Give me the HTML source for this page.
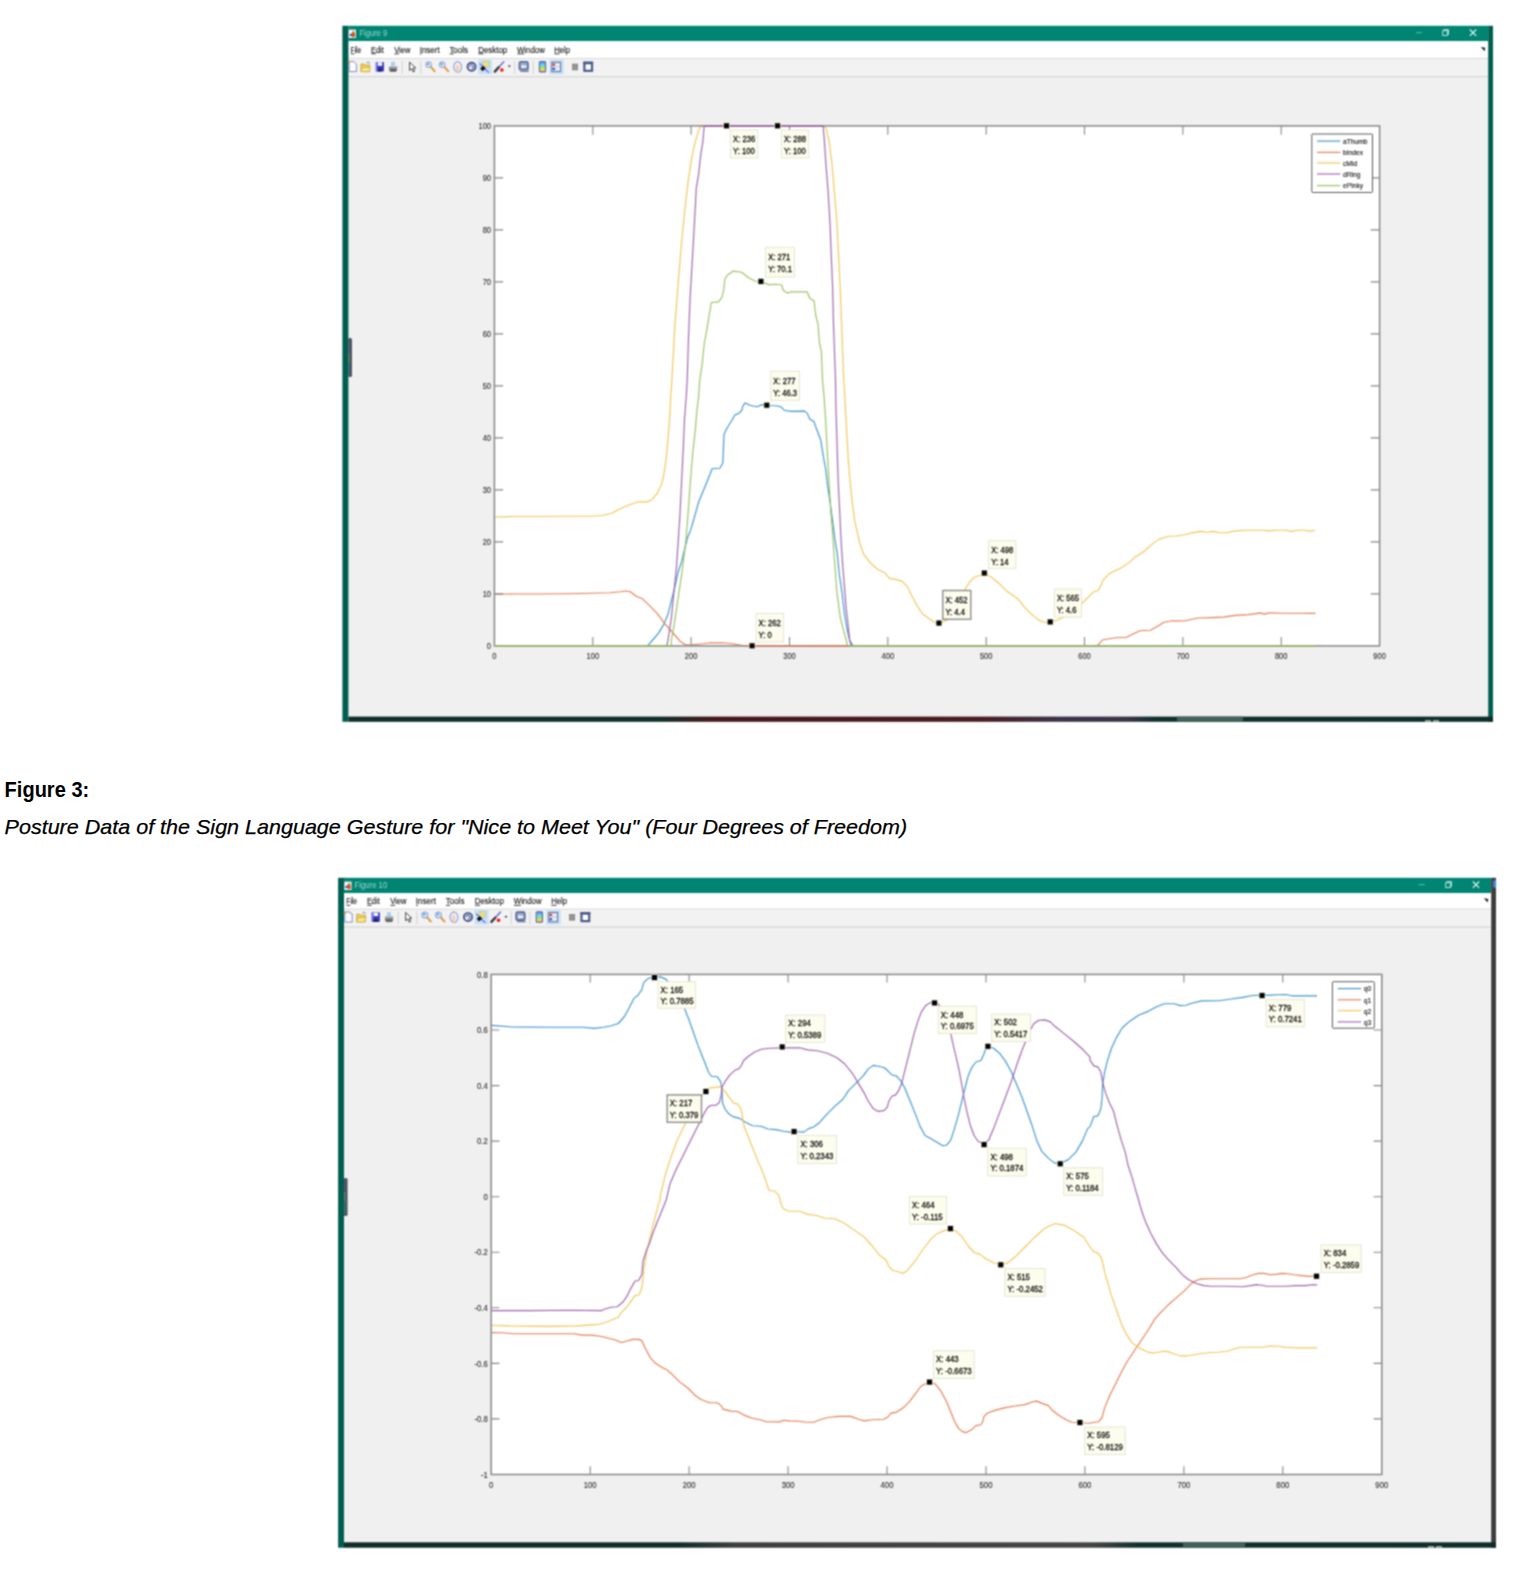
<!DOCTYPE html>
<html lang="en"><head><meta charset="utf-8"><title>Figure 3</title>
<style>html,body{margin:0;padding:0;background:#fff}body{width:1532px;height:1580px;overflow:hidden;position:relative}svg{display:block;position:absolute;left:0;top:0}text{white-space:pre}</style></head><body>
<svg width="1532" height="1580" viewBox="0 0 1532 1580">
<defs><filter id="soft" x="-1%" y="-1%" width="102%" height="102%" color-interpolation-filters="sRGB"><feConvolveMatrix order="3" kernelMatrix="1 2 1 2 4 2 1 2 1" divisor="16" edgeMode="none" preserveAlpha="false"/></filter><linearGradient id="cbar" x1="0" y1="0" x2="0" y2="1"><stop offset="0" stop-color="#5a7af0"/><stop offset="0.35" stop-color="#6ad8e8"/><stop offset="0.6" stop-color="#9ae07a"/><stop offset="0.8" stop-color="#f0e060"/><stop offset="1" stop-color="#f0904a"/></linearGradient><linearGradient id="tb1" x1="0" y1="0" x2="1" y2="0"><stop offset="0" stop-color="#0e2e2a"/><stop offset="0.27" stop-color="#0e2e2a"/><stop offset="0.32" stop-color="#471619"/><stop offset="0.55" stop-color="#4a1a20"/><stop offset="0.62" stop-color="#3c3248"/><stop offset="0.68" stop-color="#3a3446"/><stop offset="0.705" stop-color="#10302c"/><stop offset="1" stop-color="#0e2c28"/></linearGradient><linearGradient id="tb2" x1="0" y1="0" x2="1" y2="0"><stop offset="0" stop-color="#0f2c29"/><stop offset="0.29" stop-color="#0f2c29"/><stop offset="0.34" stop-color="#3e3e3e"/><stop offset="0.65" stop-color="#444"/><stop offset="0.69" stop-color="#10302c"/><stop offset="1" stop-color="#0e2c28"/></linearGradient></defs>
<rect x="0" y="0" width="1532" height="1580" fill="#fff"/>
<g filter="url(#soft)">
<rect x="342.4" y="25.8" width="1150.6" height="696.0" fill="#f0f0f0"/><rect x="348.4" y="25.8" width="1139.8000000000002" height="15.2" fill="#008573"/><rect x="348.4" y="41.0" width="1139.8000000000002" height="17.200000000000003" fill="#ffffff"/><rect x="348.4" y="57.900000000000006" width="1139.8000000000002" height="1.2" fill="#dddddd"/><rect x="348.4" y="59.1" width="1139.8000000000002" height="17.199999999999996" fill="#f2f2f2"/><rect x="348.4" y="76.1" width="1139.8000000000002" height="1.2" fill="#d6d6d6"/><rect x="342.4" y="25.8" width="6.0" height="696.0" fill="#005e50"/><rect x="1488.2" y="25.8" width="4.7999999999999545" height="696.0" fill="#005e50"/><rect x="348.4" y="716.6" width="1144.6" height="5.2" fill="url(#tb1)"/><rect x="1177" y="716.6" width="66" height="5.2" fill="#44605b"/><rect x="1425" y="720" width="6" height="1.8" fill="#9ab0ac"/><rect x="1433" y="720" width="6" height="1.8" fill="#9ab0ac"/><rect x="348.7" y="29.599999999999998" width="7.2" height="8.4" fill="#f6f4f2"/><path d="M349.5 35.0l2.2-1.6 1.8-3 1.2 2.4 0.6 3.4-2.2 1.6-1.4-2z" fill="#d8501c"/><path d="M349.3 35.0l2.2-1.6 0.8 1.8-1.2 1.4z" fill="#3a5aa8"/><text x="359.4" y="36.3" font-family="Liberation Sans, sans-serif" font-size="9.4" fill="#9fd8cd" textLength="27.8" lengthAdjust="spacingAndGlyphs">Figure 9</text><path d="M1416 32.699999999999996h6" stroke="#5fc0b0" stroke-width="1"/><rect x="1442.7" y="30.699999999999996" width="4.6" height="4.8" fill="none" stroke="#c8ece6" stroke-width="0.9"/><path d="M1443.9 30.699999999999996v-1.1h4.6v4.8h-1.2" fill="none" stroke="#c8ece6" stroke-width="0.9"/><path d="M1469.8 29.499999999999996l6.4 6.4M1476.2 29.499999999999996l-6.4 6.4" stroke="#e6f6f3" stroke-width="1.1"/><path d="M1480.8 47.00000000000001l4.6 0.8 -0.8 3.4z" fill="#222"/><g transform="translate(348.4,0) scale(1.0,1) translate(-348.4,0)" font-family="Liberation Sans, sans-serif" font-size="9.7" fill="#1a1a1a" stroke="#1a1a1a" stroke-width="0.15"><text x="350.6" y="52.5" textLength="10.7" lengthAdjust="spacingAndGlyphs">File</text><rect x="350.8" y="53.5" width="3.7" height="0.8" stroke="none"/><text x="371.1" y="52.5" textLength="12.7" lengthAdjust="spacingAndGlyphs">Edit</text><rect x="371.3" y="53.5" width="4.5" height="0.8" stroke="none"/><text x="394.2" y="52.5" textLength="16.1" lengthAdjust="spacingAndGlyphs">View</text><rect x="394.4" y="53.5" width="4.6" height="0.8" stroke="none"/><text x="419.7" y="52.5" textLength="20.0" lengthAdjust="spacingAndGlyphs">Insert</text><rect x="419.9" y="53.5" width="1.8" height="0.8" stroke="none"/><text x="449.4" y="52.5" textLength="18.6" lengthAdjust="spacingAndGlyphs">Tools</text><rect x="449.6" y="53.5" width="4.2" height="0.8" stroke="none"/><text x="478.2" y="52.5" textLength="29.0" lengthAdjust="spacingAndGlyphs">Desktop</text><rect x="478.4" y="53.5" width="5.3" height="0.8" stroke="none"/><text x="517.0" y="52.5" textLength="27.8" lengthAdjust="spacingAndGlyphs">Window</text><rect x="517.2" y="53.5" width="7.0" height="0.8" stroke="none"/><text x="554.2" y="52.5" textLength="15.7" lengthAdjust="spacingAndGlyphs">Help</text><rect x="554.4" y="53.5" width="5.1" height="0.8" stroke="none"/></g><g transform="translate(348.4,0.0) scale(1.0,1) translate(-348.4,0)"><path d="M349.2 61.6h4.6l2.6 2.6v7.4h-7.2z" fill="#fdfdff" stroke="#7f8fc4" stroke-width="1"/><circle cx="349" cy="62.6" r="1.1" fill="#f08a3a"/><path d="M361 64h3l1 1h4.6v6.6H361z" fill="#ecd05a" stroke="#c8a432" stroke-width="0.9"/><path d="M362 67.4h8.2l-1 4.2H361z" fill="#f7e88a" stroke="#c8a432" stroke-width="0.6"/><path d="M366.5 62.6l2.4-0.6 0.6 1.6" stroke="#6a8ac8" stroke-width="0.9" fill="none"/><rect x="375.8" y="61.9" width="8.2" height="9.7" rx="0.8" fill="#3c3cc0"/><rect x="377.6" y="62.2" width="4.6" height="3.6" fill="#f4f4ff"/><rect x="378" y="68.3" width="3.8" height="3.3" fill="#22226a"/><rect x="375.8" y="61.9" width="1.4" height="9.7" fill="#7a7af0"/><rect x="391" y="61.8" width="4" height="4.6" fill="#a8d0f4"/><path d="M389 66h8.2v4.4l-1.4 1.6h-5.4l-1.4-1.6z" fill="#8a8a8a"/><rect x="390.4" y="69.2" width="5.4" height="2" fill="#5a5a5a"/><rect x="389" y="66" width="8.2" height="1.3" fill="#c4c4c4"/><rect x="401.7" y="61" width="1" height="13" fill="#d2d2d2"/><rect x="420.3" y="61" width="1" height="13" fill="#d2d2d2"/><rect x="514.1" y="61" width="1" height="13" fill="#d2d2d2"/><rect x="532.7" y="61" width="1" height="13" fill="#d2d2d2"/><path d="M409.6 62.2v8.2l2-1.8 1.5 3.3 1.5-0.7-1.5-3.2h2.6z" fill="#fff" stroke="#333" stroke-width="0.9" stroke-linejoin="round"/><line x1="430.8" y1="66.8" x2="434.6" y2="71.2" stroke="#e09a48" stroke-width="2" stroke-linecap="round"/><circle cx="428.6" cy="64.6" r="3" fill="#cfe2f7" stroke="#8ea4cc" stroke-width="1"/><circle cx="428.0" cy="64" r="1.1" fill="#5a8ad0"/><line x1="444.4" y1="66.8" x2="448.2" y2="71.2" stroke="#e09a48" stroke-width="2" stroke-linecap="round"/><circle cx="442.2" cy="64.6" r="3" fill="#cfe2f7" stroke="#8ea4cc" stroke-width="1"/><circle cx="441.59999999999997" cy="64" r="1.1" fill="#5a8ad0"/><path d="M453.4 66.4l1.4-3.2 2.6-1.8 2.6 1.4 1.6 3 -0.2 3.2-1.8 3h-3.2l-2.2-2.6z" fill="#eef0fa" stroke="#93a2d4" stroke-width="1.1" stroke-linejoin="round"/><path d="M455.6 66l1.8-1.6 1.8 1.4 0.2 3-1 2.6h-2l-1-2.6z" fill="#f6d2b4"/><circle cx="471.6" cy="66.8" r="4.1" fill="#e4e8f4" stroke="#3c4a80" stroke-width="1.7"/><path d="M469.6 66.6a2 2 0 1 1 2 2.2" fill="none" stroke="#4a5a94" stroke-width="1.1"/><rect x="478.1" y="59.5" width="14" height="14.8" fill="#c7e1f8"/><rect x="482.8" y="61.4" width="6.2" height="5.6" fill="#e6de8c" stroke="#bdb86a" stroke-width="0.5"/><line x1="479.6" y1="63.4" x2="488.8" y2="72.6" stroke="#5c5cf4" stroke-width="1.1"/><rect x="480.8" y="66.6" width="4.2" height="3.6" fill="#111" transform="rotate(-40 482.9 68.4)"/><line x1="498.6" y1="67.4" x2="503.8" y2="61.8" stroke="#7676dc" stroke-width="1.6" stroke-linecap="round"/><line x1="494.8" y1="71.6" x2="498.6" y2="67.4" stroke="#3a3a3a" stroke-width="2.4" stroke-linecap="round"/><circle cx="501.9" cy="70" r="1.8" fill="#f01010"/><path d="M507.8 65.6h3l-1.5 2z" fill="#333"/><rect x="519.4" y="61.8" width="8.6" height="8" rx="1.4" fill="#9aa9cf" stroke="#586896" stroke-width="1.6"/><path d="M521 66.4l2.6-2v1.3h3v1.6h-3v1.3z" fill="#fff"/><path d="M520.4 71.4h8.4" stroke="#6a7aa6" stroke-width="1.2"/><rect x="539.4" y="61.5" width="6.2" height="10.4" rx="1" fill="url(#cbar)" stroke="#5a6a9c" stroke-width="1.1"/><rect x="549.4" y="59.5" width="14.4" height="14.8" fill="#c7e1f8"/><rect x="551.8" y="62.2" width="8.8" height="9.4" fill="#d2dae8" stroke="#6c7a9c" stroke-width="1.1"/><rect x="552.7" y="63.5" width="2.2" height="2.2" fill="#f02020"/><rect x="552.7" y="67.8" width="2.2" height="2.2" fill="#2a4af0"/><path d="M556 64.6h3.6M556 68.9h3.6" stroke="#fff" stroke-width="1.2"/><rect x="572" y="63.7" width="6" height="6.6" fill="#8c8c8c"/><path d="M574 63.7v6.6M576 63.7v6.6M572 67h6" stroke="#a4a4a4" stroke-width="0.5"/><rect x="584.4" y="62.8" width="7.6" height="8" fill="#fff" stroke="#4a5a8c" stroke-width="2.2"/><rect x="583.3" y="61.7" width="9.8" height="2.6" fill="#4a5a8c"/></g>
<rect x="348.2" y="338" width="3.8" height="39" rx="1.6" fill="#4e5468"/><rect x="348.4" y="353" width="1.2" height="9" fill="#5a8a4a"/><rect x="348.4" y="362" width="1.2" height="12" fill="#2a7a72"/>
<rect x="494.4" y="125.9" width="885.1999999999999" height="520.0" fill="#fff"/>
<polyline points="647.5,645.9 652.7,640.0 658.7,632.9 663.8,624.4 668.0,614.2 671.4,600.6 674.8,587.1 678.2,571.8 681.6,561.6 684.1,551.4 687.5,537.8 690.9,529.4 694.3,517.5 698.6,502.2 702.8,492.0 707.0,481.8 710.4,473.3 712.1,468.8 719.8,468.3 722.8,463.2 724.0,434.3 727.4,427.5 731.6,420.7 735.0,414.8 738.4,413.6 741.8,410.5 742.7,406.3 745.2,402.9 750.3,405.5 757.1,406.8 762.2,404.6 765.9,405.5 775.8,405.8 780.9,406.8 784.3,410.2 791.1,411.4 804.6,411.1 807.2,413.1 809.7,419.0 814.0,421.6 815.7,426.7 820.8,440.3 823.3,456.4 825.8,470.0 827.5,485.2 830.1,502.2 832.6,520.9 835.2,541.2 837.2,553.1 839.4,575.2 842.0,592.2 844.5,614.2 847.1,629.5 849.6,640.0 853.0,645.9" fill="none" stroke="#4095ce" stroke-width="1.15" stroke-linejoin="round" stroke-linecap="round"/>
<polyline points="494.5,594.2 515.0,594.0 540.0,594.0 565.0,593.8 590.0,593.2 610.0,592.8 620.0,591.8 626.2,591.0 630.0,591.5 636.2,596.2 642.5,598.8 650.0,606.2 657.5,613.8 665.0,623.8 672.5,632.5 680.0,641.2 685.0,644.5 690.0,645.0 702.5,643.8 710.0,642.8 722.5,642.8 732.5,643.8 742.5,645.5 750.0,646.0 760.0,645.9 1093.0,645.9 1098.1,645.1 1102.3,640.0 1109.1,638.8 1117.6,637.5 1126.1,637.5 1132.9,634.1 1140.0,630.7 1150.4,630.3 1157.2,626.4 1163.9,622.2 1172.4,620.8 1184.3,621.0 1197.9,618.0 1211.5,617.6 1223.3,617.1 1235.2,615.4 1248.8,614.6 1260.7,612.9 1264.1,614.1 1269.2,612.9 1282.7,613.2 1299.7,613.2 1315.0,613.4" fill="none" stroke="#e37e53" stroke-width="1.15" stroke-linejoin="round" stroke-linecap="round"/>
<polyline points="494.5,517.0 515.0,516.5 540.0,516.5 565.0,516.2 590.0,516.2 602.5,515.5 612.5,513.0 620.0,508.8 630.0,504.5 637.5,502.0 640.0,501.9 646.8,501.9 651.9,499.7 657.0,493.7 661.2,485.2 663.8,475.0 666.3,458.1 668.0,439.4 669.7,417.3 670.9,393.6 671.9,380.0 674.8,327.1 678.2,282.9 681.6,242.2 685.0,208.3 688.4,179.4 691.8,157.3 695.2,142.1 698.6,130.2 701.1,125.8 824.1,125.8 826.7,130.2 829.2,142.1 831.8,162.4 834.3,191.3 836.9,221.8 838.6,255.8 840.3,289.7 841.6,323.7 842.8,357.6 843.7,380.0 844.5,390.2 845.7,413.9 847.1,439.4 848.4,461.5 850.1,481.8 852.2,502.2 854.7,520.9 858.1,536.1 860.6,546.3 864.0,554.8 870.8,563.3 877.6,569.2 880.0,570.4 885.1,573.0 889.3,578.4 895.3,579.4 902.1,581.1 907.2,586.6 912.2,596.7 917.3,606.1 922.4,613.7 929.2,618.8 934.3,622.2 939.1,623.4 947.9,619.7 954.7,612.0 961.5,600.1 965.7,588.3 970.0,581.5 975.0,576.7 980.1,575.5 984.5,573.8 990.3,576.4 998.8,583.2 1007.3,591.6 1017.5,598.4 1024.3,606.9 1032.7,615.4 1039.5,620.5 1045.5,622.5 1050.2,622.2 1058.2,619.7 1066.7,615.4 1082.0,603.5 1088.8,596.7 1093.8,591.6 1098.1,590.8 1101.5,584.0 1103.2,579.8 1109.1,573.8 1117.6,569.6 1122.7,567.0 1130.0,561.9 1135.1,556.9 1143.6,551.8 1152.1,544.1 1158.9,539.4 1167.3,536.5 1175.8,536.0 1186.0,534.5 1192.8,532.6 1201.3,531.4 1206.4,532.2 1213.2,531.4 1218.3,532.6 1226.7,532.8 1235.2,530.9 1245.4,530.2 1262.4,530.2 1269.2,530.9 1276.0,530.2 1286.1,530.2 1291.2,531.4 1298.0,530.2 1304.8,530.2 1309.9,531.1 1315.0,530.5" fill="none" stroke="#f2c558" stroke-width="1.15" stroke-linejoin="round" stroke-linecap="round"/>
<polyline points="666.8,645.9 668.0,640.0 671.4,617.6 673.9,592.2 676.5,566.7 678.2,541.2 679.9,515.8 681.6,481.8 683.3,447.9 684.5,419.0 686.2,397.0 687.2,380.0 688.4,340.6 690.1,298.2 692.6,255.8 694.3,225.2 696.3,187.9 698.6,174.3 700.8,153.9 702.8,142.1 704.2,125.8 823.0,125.8 824.1,137.0 825.8,162.4 828.1,191.3 830.1,225.2 831.4,259.2 832.6,286.3 833.5,323.7 834.7,357.6 835.5,380.0 836.0,410.5 836.9,439.4 838.2,481.8 839.9,515.8 841.1,541.2 842.8,566.7 844.5,587.1 846.2,609.1 847.9,622.7 849.6,640.0 851.3,645.9" fill="none" stroke="#9e63aa" stroke-width="1.15" stroke-linejoin="round" stroke-linecap="round"/>
<polyline points="494.4,645.9 671.2,645.9 671.4,640.0 673.9,626.1 676.5,609.1 679.0,592.2 681.6,575.2 683.8,558.2 685.8,541.2 687.9,515.8 690.1,485.2 692.6,454.7 695.2,430.9 696.9,410.5 698.6,397.0 699.7,380.0 701.9,366.1 704.2,344.0 707.0,328.8 709.2,315.2 711.3,302.5 718.4,301.9 721.5,298.2 723.5,291.4 724.9,278.7 728.3,274.4 733.3,271.1 741.8,272.2 748.6,277.8 755.4,281.2 760.5,281.6 769.0,284.6 775.8,284.3 781.7,285.0 783.4,290.6 787.7,293.1 791.1,291.8 807.2,291.8 809.7,298.2 814.0,300.8 815.7,315.2 817.9,323.7 819.6,344.0 821.3,350.8 822.5,380.0 824.1,397.0 825.8,422.4 827.5,456.4 829.2,485.2 830.9,512.4 832.6,532.7 834.3,558.2 836.9,592.2 840.3,617.6 843.7,631.2 846.2,640.0 847.6,645.9 1315.0,645.9" fill="none" stroke="#99c164" stroke-width="1.15" stroke-linejoin="round" stroke-linecap="round"/>
<path d="M592.8 645.9v-8.8M592.8 125.9v8.8M691.1 645.9v-8.8M691.1 125.9v8.8M789.5 645.9v-8.8M789.5 125.9v8.8M887.8 645.9v-8.8M887.8 125.9v8.8M986.2 645.9v-8.8M986.2 125.9v8.8M1084.5 645.9v-8.8M1084.5 125.9v8.8M1182.9 645.9v-8.8M1182.9 125.9v8.8M1281.2 645.9v-8.8M1281.2 125.9v8.8M494.4 593.9h8.8M1379.6 593.9h-8.8M494.4 541.9h8.8M1379.6 541.9h-8.8M494.4 489.9h8.8M1379.6 489.9h-8.8M494.4 437.9h8.8M1379.6 437.9h-8.8M494.4 385.9h8.8M1379.6 385.9h-8.8M494.4 333.9h8.8M1379.6 333.9h-8.8M494.4 281.9h8.8M1379.6 281.9h-8.8M494.4 229.9h8.8M1379.6 229.9h-8.8M494.4 177.9h8.8M1379.6 177.9h-8.8" stroke="#888888" stroke-width="1.1" fill="none"/><rect x="494.4" y="125.9" width="885.1999999999999" height="520.0" fill="none" stroke="#888888" stroke-width="1.5"/><text transform="translate(494.4,659.3) scale(0.88,1)" font-family="Liberation Sans, sans-serif" font-size="8.5" fill="#303030" text-anchor="middle" stroke="#303030" stroke-width="0.12">0</text><text transform="translate(592.8,659.3) scale(0.88,1)" font-family="Liberation Sans, sans-serif" font-size="8.5" fill="#303030" text-anchor="middle" stroke="#303030" stroke-width="0.12">100</text><text transform="translate(691.1,659.3) scale(0.88,1)" font-family="Liberation Sans, sans-serif" font-size="8.5" fill="#303030" text-anchor="middle" stroke="#303030" stroke-width="0.12">200</text><text transform="translate(789.5,659.3) scale(0.88,1)" font-family="Liberation Sans, sans-serif" font-size="8.5" fill="#303030" text-anchor="middle" stroke="#303030" stroke-width="0.12">300</text><text transform="translate(887.8,659.3) scale(0.88,1)" font-family="Liberation Sans, sans-serif" font-size="8.5" fill="#303030" text-anchor="middle" stroke="#303030" stroke-width="0.12">400</text><text transform="translate(986.2,659.3) scale(0.88,1)" font-family="Liberation Sans, sans-serif" font-size="8.5" fill="#303030" text-anchor="middle" stroke="#303030" stroke-width="0.12">500</text><text transform="translate(1084.5,659.3) scale(0.88,1)" font-family="Liberation Sans, sans-serif" font-size="8.5" fill="#303030" text-anchor="middle" stroke="#303030" stroke-width="0.12">600</text><text transform="translate(1182.9,659.3) scale(0.88,1)" font-family="Liberation Sans, sans-serif" font-size="8.5" fill="#303030" text-anchor="middle" stroke="#303030" stroke-width="0.12">700</text><text transform="translate(1281.2,659.3) scale(0.88,1)" font-family="Liberation Sans, sans-serif" font-size="8.5" fill="#303030" text-anchor="middle" stroke="#303030" stroke-width="0.12">800</text><text transform="translate(1379.6,659.3) scale(0.88,1)" font-family="Liberation Sans, sans-serif" font-size="8.5" fill="#303030" text-anchor="middle" stroke="#303030" stroke-width="0.12">900</text><text transform="translate(491.0,649.0) scale(0.88,1)" font-family="Liberation Sans, sans-serif" font-size="8.5" fill="#303030" text-anchor="end" stroke="#303030" stroke-width="0.12">0</text><text transform="translate(491.0,597.0) scale(0.88,1)" font-family="Liberation Sans, sans-serif" font-size="8.5" fill="#303030" text-anchor="end" stroke="#303030" stroke-width="0.12">10</text><text transform="translate(491.0,545.0) scale(0.88,1)" font-family="Liberation Sans, sans-serif" font-size="8.5" fill="#303030" text-anchor="end" stroke="#303030" stroke-width="0.12">20</text><text transform="translate(491.0,493.0) scale(0.88,1)" font-family="Liberation Sans, sans-serif" font-size="8.5" fill="#303030" text-anchor="end" stroke="#303030" stroke-width="0.12">30</text><text transform="translate(491.0,441.0) scale(0.88,1)" font-family="Liberation Sans, sans-serif" font-size="8.5" fill="#303030" text-anchor="end" stroke="#303030" stroke-width="0.12">40</text><text transform="translate(491.0,389.0) scale(0.88,1)" font-family="Liberation Sans, sans-serif" font-size="8.5" fill="#303030" text-anchor="end" stroke="#303030" stroke-width="0.12">50</text><text transform="translate(491.0,337.0) scale(0.88,1)" font-family="Liberation Sans, sans-serif" font-size="8.5" fill="#303030" text-anchor="end" stroke="#303030" stroke-width="0.12">60</text><text transform="translate(491.0,285.0) scale(0.88,1)" font-family="Liberation Sans, sans-serif" font-size="8.5" fill="#303030" text-anchor="end" stroke="#303030" stroke-width="0.12">70</text><text transform="translate(491.0,233.0) scale(0.88,1)" font-family="Liberation Sans, sans-serif" font-size="8.5" fill="#303030" text-anchor="end" stroke="#303030" stroke-width="0.12">80</text><text transform="translate(491.0,181.0) scale(0.88,1)" font-family="Liberation Sans, sans-serif" font-size="8.5" fill="#303030" text-anchor="end" stroke="#303030" stroke-width="0.12">90</text><text transform="translate(491.0,129.0) scale(0.88,1)" font-family="Liberation Sans, sans-serif" font-size="8.5" fill="#303030" text-anchor="end" stroke="#303030" stroke-width="0.12">100</text>
<polyline points="704.2,125.8 823.0,125.8" fill="none" stroke="#9e63aa" stroke-width="1.3" stroke-linejoin="round" stroke-linecap="round"/>
<polyline points="494.4,645.9 671.2,645.9" fill="none" stroke="#99c164" stroke-width="1.3" stroke-linejoin="round" stroke-linecap="round"/>
<polyline points="847.6,645.9 1315.0,645.9" fill="none" stroke="#99c164" stroke-width="1.3" stroke-linejoin="round" stroke-linecap="round"/>
<polyline points="744.0,645.6 847.6,645.9" fill="none" stroke="#e37e53" stroke-width="1.3" stroke-linejoin="round" stroke-linecap="round"/>
<rect x="1311.8" y="134" width="60.7" height="58.5" rx="0.8" fill="#fff" stroke="#5a5a5a" stroke-width="1"/><line x1="1317" y1="141.1" x2="1340.4" y2="141.1" stroke="#4095ce" stroke-width="1.15"/><text transform="translate(1343.0,143.9) scale(0.86,1)" font-family="Liberation Sans, sans-serif" font-size="7.8" fill="#1c1c1c" text-anchor="start" stroke="#1c1c1c" stroke-width="0.15">aThumb</text><line x1="1317" y1="152.4" x2="1340.4" y2="152.4" stroke="#e37e53" stroke-width="1.15"/><text transform="translate(1343.0,155.2) scale(0.86,1)" font-family="Liberation Sans, sans-serif" font-size="7.8" fill="#1c1c1c" text-anchor="start" stroke="#1c1c1c" stroke-width="0.15">bIndex</text><line x1="1317" y1="163" x2="1340.4" y2="163" stroke="#f2c558" stroke-width="1.15"/><text transform="translate(1343.0,165.8) scale(0.86,1)" font-family="Liberation Sans, sans-serif" font-size="7.8" fill="#1c1c1c" text-anchor="start" stroke="#1c1c1c" stroke-width="0.15">cMid</text><line x1="1317" y1="174" x2="1340.4" y2="174" stroke="#9e63aa" stroke-width="1.15"/><text transform="translate(1343.0,176.8) scale(0.86,1)" font-family="Liberation Sans, sans-serif" font-size="7.8" fill="#1c1c1c" text-anchor="start" stroke="#1c1c1c" stroke-width="0.15">dRing</text><line x1="1317" y1="185.6" x2="1340.4" y2="185.6" stroke="#99c164" stroke-width="1.15"/><text transform="translate(1343.0,188.4) scale(0.86,1)" font-family="Liberation Sans, sans-serif" font-size="7.8" fill="#1c1c1c" text-anchor="start" stroke="#1c1c1c" stroke-width="0.15">ePinky</text>
<rect x="730.5" y="130.0" width="27.3" height="28.0" fill="#fdfdee" stroke="#e2e2d2" stroke-width="0.9"/><text transform="translate(733.1,142.1) scale(0.9,1)" font-family="Liberation Sans, sans-serif" font-size="8.5" fill="#111" text-anchor="start" stroke="#111" stroke-width="0.3">X: 236</text><text transform="translate(733.1,153.9) scale(0.9,1)" font-family="Liberation Sans, sans-serif" font-size="8.5" fill="#111" text-anchor="start" stroke="#111" stroke-width="0.3">Y: 100</text>
<rect x="781.4" y="130.0" width="27.3" height="28.0" fill="#fdfdee" stroke="#e2e2d2" stroke-width="0.9"/><text transform="translate(784.0,142.1) scale(0.9,1)" font-family="Liberation Sans, sans-serif" font-size="8.5" fill="#111" text-anchor="start" stroke="#111" stroke-width="0.3">X: 288</text><text transform="translate(784.0,153.9) scale(0.9,1)" font-family="Liberation Sans, sans-serif" font-size="8.5" fill="#111" text-anchor="start" stroke="#111" stroke-width="0.3">Y: 100</text>
<rect x="765.6" y="247.3" width="28.8" height="29.7" fill="#fdfdee" stroke="#e2e2d2" stroke-width="0.9"/><text transform="translate(768.2,260.3) scale(0.9,1)" font-family="Liberation Sans, sans-serif" font-size="8.5" fill="#111" text-anchor="start" stroke="#111" stroke-width="0.3">X: 271</text><text transform="translate(768.2,272.1) scale(0.9,1)" font-family="Liberation Sans, sans-serif" font-size="8.5" fill="#111" text-anchor="start" stroke="#111" stroke-width="0.3">Y: 70.1</text>
<rect x="770.7" y="371.2" width="28.8" height="29.2" fill="#fdfdee" stroke="#e2e2d2" stroke-width="0.9"/><text transform="translate(773.3,383.9) scale(0.9,1)" font-family="Liberation Sans, sans-serif" font-size="8.5" fill="#111" text-anchor="start" stroke="#111" stroke-width="0.3">X: 277</text><text transform="translate(773.3,395.7) scale(0.9,1)" font-family="Liberation Sans, sans-serif" font-size="8.5" fill="#111" text-anchor="start" stroke="#111" stroke-width="0.3">Y: 46.3</text>
<rect x="756.0" y="613.5" width="27.6" height="28.5" fill="#fdfdee" stroke="#e2e2d2" stroke-width="0.9"/><text transform="translate(758.6,625.9) scale(0.9,1)" font-family="Liberation Sans, sans-serif" font-size="8.5" fill="#111" text-anchor="start" stroke="#111" stroke-width="0.3">X: 262</text><text transform="translate(758.6,637.6) scale(0.9,1)" font-family="Liberation Sans, sans-serif" font-size="8.5" fill="#111" text-anchor="start" stroke="#111" stroke-width="0.3">Y: 0</text>
<rect x="942.8" y="590.5" width="28.0" height="28.8" fill="#fdfdee" stroke="#8c8c8c" stroke-width="1.4"/><text transform="translate(945.4,603.0) scale(0.9,1)" font-family="Liberation Sans, sans-serif" font-size="8.5" fill="#111" text-anchor="start" stroke="#111" stroke-width="0.3">X: 452</text><text transform="translate(945.4,614.8) scale(0.9,1)" font-family="Liberation Sans, sans-serif" font-size="8.5" fill="#111" text-anchor="start" stroke="#111" stroke-width="0.3">Y: 4.4</text>
<rect x="988.6" y="540.7" width="27.2" height="28.0" fill="#fdfdee" stroke="#e2e2d2" stroke-width="0.9"/><text transform="translate(991.2,552.8) scale(0.9,1)" font-family="Liberation Sans, sans-serif" font-size="8.5" fill="#111" text-anchor="start" stroke="#111" stroke-width="0.3">X: 498</text><text transform="translate(991.2,564.6) scale(0.9,1)" font-family="Liberation Sans, sans-serif" font-size="8.5" fill="#111" text-anchor="start" stroke="#111" stroke-width="0.3">Y: 14</text>
<rect x="1054.3" y="589.1" width="27.3" height="28.0" fill="#fdfdee" stroke="#e2e2d2" stroke-width="0.9"/><text transform="translate(1056.9,601.2) scale(0.9,1)" font-family="Liberation Sans, sans-serif" font-size="8.5" fill="#111" text-anchor="start" stroke="#111" stroke-width="0.3">X: 565</text><text transform="translate(1056.9,613.0) scale(0.9,1)" font-family="Liberation Sans, sans-serif" font-size="8.5" fill="#111" text-anchor="start" stroke="#111" stroke-width="0.3">Y: 4.6</text>
<rect x="723.6" y="122.9" width="5.9" height="5.9" fill="#000" stroke="#fbfbe6" stroke-width="0.7"/>
<rect x="774.7" y="122.9" width="5.9" height="5.9" fill="#000" stroke="#fbfbe6" stroke-width="0.7"/>
<rect x="758.0" y="278.4" width="5.9" height="5.9" fill="#000" stroke="#fbfbe6" stroke-width="0.7"/>
<rect x="763.9" y="402.2" width="5.9" height="5.9" fill="#000" stroke="#fbfbe6" stroke-width="0.7"/>
<rect x="749.1" y="642.9" width="5.9" height="5.9" fill="#000" stroke="#fbfbe6" stroke-width="0.7"/>
<rect x="936.0" y="620.1" width="5.9" height="5.9" fill="#000" stroke="#fbfbe6" stroke-width="0.7"/>
<rect x="981.3" y="570.1" width="5.9" height="5.9" fill="#000" stroke="#fbfbe6" stroke-width="0.7"/>
<rect x="1047.2" y="619.0" width="5.9" height="5.9" fill="#000" stroke="#fbfbe6" stroke-width="0.7"/>
</g>
<text x="4.6" y="796.6" font-family="Liberation Sans, sans-serif" font-size="21.4" font-weight="bold" fill="#000" textLength="84.6" lengthAdjust="spacingAndGlyphs">Figure 3:</text>
<text x="4.6" y="834.0" font-family="Liberation Sans, sans-serif" font-size="20.2" font-style="italic" fill="#000" stroke="#000" stroke-width="0.25" textLength="902.5" lengthAdjust="spacingAndGlyphs">Posture Data of the Sign Language Gesture for "Nice to Meet You" (Four Degrees of Freedom)</text>
<g filter="url(#soft)">
<rect x="338.1" y="877.8" width="1157.9" height="669.9000000000001" fill="#f0f0f0"/><rect x="344.0" y="877.8" width="1147.2" height="15.200000000000045" fill="#008573"/><rect x="344.0" y="893.0" width="1147.2" height="15.799999999999955" fill="#ffffff"/><rect x="344.0" y="908.5" width="1147.2" height="1.2" fill="#dddddd"/><rect x="344.0" y="909.6999999999999" width="1147.2" height="16.90000000000007" fill="#f2f2f2"/><rect x="344.0" y="926.4" width="1147.2" height="1.2" fill="#d6d6d6"/><rect x="338.1" y="877.8" width="5.899999999999977" height="669.9000000000001" fill="#005e50"/><rect x="1491.2" y="877.8" width="4.7999999999999545" height="669.9000000000001" fill="#3c3c3c"/><rect x="344.0" y="1542.3" width="1152" height="5.4" fill="url(#tb2)"/><rect x="1183" y="1542.3" width="62" height="5.4" fill="#44605b"/><rect x="1428" y="1546" width="6" height="1.8" fill="#9ab0ac"/><rect x="1436" y="1546" width="6" height="1.8" fill="#9ab0ac"/><rect x="344.3" y="881.5999999999999" width="7.2" height="8.4" fill="#f6f4f2"/><path d="M345.1 887.0l2.2-1.6 1.8-3 1.2 2.4 0.6 3.4-2.2 1.6-1.4-2z" fill="#d8501c"/><path d="M344.90000000000003 887.0l2.2-1.6 0.8 1.8-1.2 1.4z" fill="#3a5aa8"/><text x="354.5" y="888.3" font-family="Liberation Sans, sans-serif" font-size="9.4" fill="#9fd8cd" textLength="32.7" lengthAdjust="spacingAndGlyphs">Figure 10</text><path d="M1418.5 884.6999999999999h6" stroke="#5fc0b0" stroke-width="1"/><rect x="1445.7" y="882.6999999999999" width="4.6" height="4.8" fill="none" stroke="#c8ece6" stroke-width="0.9"/><path d="M1446.9 882.6999999999999v-1.1h4.6v4.8h-1.2" fill="none" stroke="#c8ece6" stroke-width="0.9"/><path d="M1472.8 881.4999999999999l6.4 6.4M1479.2 881.4999999999999l-6.4 6.4" stroke="#e6f6f3" stroke-width="1.1"/><path d="M1483.8 898.3000000000001l4.6 0.8 -0.8 3.4z" fill="#222"/><g transform="translate(344.09999999999997,851.4) scale(1.006,1) translate(-348.4,0)" font-family="Liberation Sans, sans-serif" font-size="9.7" fill="#1a1a1a" stroke="#1a1a1a" stroke-width="0.15"><text x="350.6" y="52.5" textLength="10.7" lengthAdjust="spacingAndGlyphs">File</text><rect x="350.8" y="53.5" width="3.7" height="0.8" stroke="none"/><text x="371.1" y="52.5" textLength="12.7" lengthAdjust="spacingAndGlyphs">Edit</text><rect x="371.3" y="53.5" width="4.5" height="0.8" stroke="none"/><text x="394.2" y="52.5" textLength="16.1" lengthAdjust="spacingAndGlyphs">View</text><rect x="394.4" y="53.5" width="4.6" height="0.8" stroke="none"/><text x="419.7" y="52.5" textLength="20.0" lengthAdjust="spacingAndGlyphs">Insert</text><rect x="419.9" y="53.5" width="1.8" height="0.8" stroke="none"/><text x="449.4" y="52.5" textLength="18.6" lengthAdjust="spacingAndGlyphs">Tools</text><rect x="449.6" y="53.5" width="4.2" height="0.8" stroke="none"/><text x="478.2" y="52.5" textLength="29.0" lengthAdjust="spacingAndGlyphs">Desktop</text><rect x="478.4" y="53.5" width="5.3" height="0.8" stroke="none"/><text x="517.0" y="52.5" textLength="27.8" lengthAdjust="spacingAndGlyphs">Window</text><rect x="517.2" y="53.5" width="7.0" height="0.8" stroke="none"/><text x="554.2" y="52.5" textLength="15.7" lengthAdjust="spacingAndGlyphs">Help</text><rect x="554.4" y="53.5" width="5.1" height="0.8" stroke="none"/></g><g transform="translate(344.09999999999997,850.3000000000001) scale(1.006,1) translate(-348.4,0)"><path d="M349.2 61.6h4.6l2.6 2.6v7.4h-7.2z" fill="#fdfdff" stroke="#7f8fc4" stroke-width="1"/><circle cx="349" cy="62.6" r="1.1" fill="#f08a3a"/><path d="M361 64h3l1 1h4.6v6.6H361z" fill="#ecd05a" stroke="#c8a432" stroke-width="0.9"/><path d="M362 67.4h8.2l-1 4.2H361z" fill="#f7e88a" stroke="#c8a432" stroke-width="0.6"/><path d="M366.5 62.6l2.4-0.6 0.6 1.6" stroke="#6a8ac8" stroke-width="0.9" fill="none"/><rect x="375.8" y="61.9" width="8.2" height="9.7" rx="0.8" fill="#3c3cc0"/><rect x="377.6" y="62.2" width="4.6" height="3.6" fill="#f4f4ff"/><rect x="378" y="68.3" width="3.8" height="3.3" fill="#22226a"/><rect x="375.8" y="61.9" width="1.4" height="9.7" fill="#7a7af0"/><rect x="391" y="61.8" width="4" height="4.6" fill="#a8d0f4"/><path d="M389 66h8.2v4.4l-1.4 1.6h-5.4l-1.4-1.6z" fill="#8a8a8a"/><rect x="390.4" y="69.2" width="5.4" height="2" fill="#5a5a5a"/><rect x="389" y="66" width="8.2" height="1.3" fill="#c4c4c4"/><rect x="401.7" y="61" width="1" height="13" fill="#d2d2d2"/><rect x="420.3" y="61" width="1" height="13" fill="#d2d2d2"/><rect x="514.1" y="61" width="1" height="13" fill="#d2d2d2"/><rect x="532.7" y="61" width="1" height="13" fill="#d2d2d2"/><path d="M409.6 62.2v8.2l2-1.8 1.5 3.3 1.5-0.7-1.5-3.2h2.6z" fill="#fff" stroke="#333" stroke-width="0.9" stroke-linejoin="round"/><line x1="430.8" y1="66.8" x2="434.6" y2="71.2" stroke="#e09a48" stroke-width="2" stroke-linecap="round"/><circle cx="428.6" cy="64.6" r="3" fill="#cfe2f7" stroke="#8ea4cc" stroke-width="1"/><circle cx="428.0" cy="64" r="1.1" fill="#5a8ad0"/><line x1="444.4" y1="66.8" x2="448.2" y2="71.2" stroke="#e09a48" stroke-width="2" stroke-linecap="round"/><circle cx="442.2" cy="64.6" r="3" fill="#cfe2f7" stroke="#8ea4cc" stroke-width="1"/><circle cx="441.59999999999997" cy="64" r="1.1" fill="#5a8ad0"/><path d="M453.4 66.4l1.4-3.2 2.6-1.8 2.6 1.4 1.6 3 -0.2 3.2-1.8 3h-3.2l-2.2-2.6z" fill="#eef0fa" stroke="#93a2d4" stroke-width="1.1" stroke-linejoin="round"/><path d="M455.6 66l1.8-1.6 1.8 1.4 0.2 3-1 2.6h-2l-1-2.6z" fill="#f6d2b4"/><circle cx="471.6" cy="66.8" r="4.1" fill="#e4e8f4" stroke="#3c4a80" stroke-width="1.7"/><path d="M469.6 66.6a2 2 0 1 1 2 2.2" fill="none" stroke="#4a5a94" stroke-width="1.1"/><rect x="478.1" y="59.5" width="14" height="14.8" fill="#c7e1f8"/><rect x="482.8" y="61.4" width="6.2" height="5.6" fill="#e6de8c" stroke="#bdb86a" stroke-width="0.5"/><line x1="479.6" y1="63.4" x2="488.8" y2="72.6" stroke="#5c5cf4" stroke-width="1.1"/><rect x="480.8" y="66.6" width="4.2" height="3.6" fill="#111" transform="rotate(-40 482.9 68.4)"/><line x1="498.6" y1="67.4" x2="503.8" y2="61.8" stroke="#7676dc" stroke-width="1.6" stroke-linecap="round"/><line x1="494.8" y1="71.6" x2="498.6" y2="67.4" stroke="#3a3a3a" stroke-width="2.4" stroke-linecap="round"/><circle cx="501.9" cy="70" r="1.8" fill="#f01010"/><path d="M507.8 65.6h3l-1.5 2z" fill="#333"/><rect x="519.4" y="61.8" width="8.6" height="8" rx="1.4" fill="#9aa9cf" stroke="#586896" stroke-width="1.6"/><path d="M521 66.4l2.6-2v1.3h3v1.6h-3v1.3z" fill="#fff"/><path d="M520.4 71.4h8.4" stroke="#6a7aa6" stroke-width="1.2"/><rect x="539.4" y="61.5" width="6.2" height="10.4" rx="1" fill="url(#cbar)" stroke="#5a6a9c" stroke-width="1.1"/><rect x="549.4" y="59.5" width="14.4" height="14.8" fill="#c7e1f8"/><rect x="551.8" y="62.2" width="8.8" height="9.4" fill="#d2dae8" stroke="#6c7a9c" stroke-width="1.1"/><rect x="552.7" y="63.5" width="2.2" height="2.2" fill="#f02020"/><rect x="552.7" y="67.8" width="2.2" height="2.2" fill="#2a4af0"/><path d="M556 64.6h3.6M556 68.9h3.6" stroke="#fff" stroke-width="1.2"/><rect x="572" y="63.7" width="6" height="6.6" fill="#8c8c8c"/><path d="M574 63.7v6.6M576 63.7v6.6M572 67h6" stroke="#a4a4a4" stroke-width="0.5"/><rect x="584.4" y="62.8" width="7.6" height="8" fill="#fff" stroke="#4a5a8c" stroke-width="2.2"/><rect x="583.3" y="61.7" width="9.8" height="2.6" fill="#4a5a8c"/></g>
<rect x="343.8" y="1178" width="3.8" height="38" rx="1.6" fill="#4e5468"/><rect x="344" y="1192" width="1.2" height="9" fill="#5a8a4a"/><rect x="344" y="1201" width="1.2" height="12" fill="#2a7a72"/>
<ellipse cx="1494.6" cy="884" rx="1.6" ry="4.2" fill="#4a86d8"/>
<rect x="491.2" y="974.4" width="890.5999999999999" height="500.1" fill="#fff"/>
<polyline points="491.6,1025.4 509.6,1026.8 548.7,1027.2 584.0,1027.2 593.8,1028.4 603.6,1027.2 611.4,1025.8 618.3,1023.5 624.1,1017.0 629.0,1008.2 633.9,998.4 637.8,995.5 641.8,989.6 643.7,982.7 647.6,978.8 653.5,976.9 660.4,976.9 666.2,979.4 671.1,985.7 678.0,997.4 684.8,1009.2 688.7,1019.0 693.6,1032.7 697.6,1044.4 701.5,1054.2 705.4,1064.0 708.3,1071.8 711.3,1076.3 717.1,1076.7 720.7,1081.6 722.0,1091.4 722.6,1103.2 725.0,1109.0 728.9,1113.9 733.8,1116.9 739.7,1118.4 744.6,1121.8 752.4,1125.7 761.2,1126.3 768.0,1129.0 775.9,1129.6 783.7,1131.2 790.0,1132.1 793.9,1131.5 803.7,1132.1 808.6,1128.6 813.5,1127.0 819.4,1122.7 827.2,1113.9 835.0,1106.1 842.9,1099.2 848.7,1090.4 856.6,1082.6 863.4,1075.7 868.3,1068.9 873.2,1065.4 878.1,1066.3 884.0,1067.5 887.9,1070.8 891.8,1074.8 896.7,1076.1 900.6,1080.6 904.5,1087.5 909.4,1099.2 915.3,1113.9 920.2,1126.6 925.1,1135.5 931.0,1138.8 936.9,1142.3 942.7,1145.8 946.6,1145.2 950.6,1140.4 954.5,1128.6 958.4,1114.9 962.3,1099.2 965.2,1087.5 968.2,1075.7 972.1,1066.9 976.0,1062.0 980.9,1060.5 983.9,1054.2 985.8,1048.3 987.8,1046.0 993.6,1048.3 999.5,1053.2 1005.4,1061.1 1011.3,1071.8 1017.1,1085.5 1022.0,1097.3 1026.9,1111.0 1031.8,1124.7 1036.7,1140.4 1041.6,1151.1 1048.5,1158.4 1054.3,1162.9 1059.8,1163.5 1068.0,1159.9 1075.9,1152.1 1082.7,1140.4 1087.6,1128.6 1090.0,1126.6 1093.9,1116.5 1097.8,1115.9 1100.8,1109.0 1102.1,1097.3 1102.7,1083.6 1104.7,1071.8 1107.6,1060.1 1111.5,1048.3 1116.4,1037.6 1122.3,1027.8 1130.1,1020.9 1139.0,1015.0 1148.7,1011.1 1156.6,1006.8 1164.4,1003.7 1174.2,1003.7 1180.1,1005.6 1185.9,1005.2 1191.8,1003.3 1201.6,1000.9 1219.2,1000.7 1231.0,999.0 1242.7,997.4 1252.5,995.5 1261.7,995.1 1270.1,995.1 1278.0,994.7 1285.8,994.5 1291.7,995.8 1316.7,995.8" fill="none" stroke="#4095ce" stroke-width="1.15" stroke-linejoin="round" stroke-linecap="round"/>
<polyline points="491.6,1332.6 501.7,1332.8 513.5,1333.7 539.0,1333.7 574.2,1333.7 582.0,1335.1 591.8,1335.1 601.6,1336.5 607.5,1338.0 615.3,1340.0 621.2,1342.5 627.1,1341.0 632.9,1339.4 638.8,1339.4 641.8,1340.6 644.7,1346.9 649.6,1356.6 654.5,1362.5 660.4,1366.4 666.2,1369.4 672.1,1374.3 679.9,1382.1 687.8,1388.0 695.6,1395.8 700.5,1399.3 709.3,1402.7 717.1,1402.7 721.1,1405.6 723.0,1409.1 730.8,1411.1 737.7,1411.5 744.6,1415.4 752.4,1418.3 760.2,1419.7 766.1,1421.7 779.8,1421.9 783.7,1420.3 790.0,1420.9 799.8,1421.3 805.7,1422.2 813.5,1422.2 821.3,1419.3 829.2,1417.3 839.0,1416.4 850.7,1416.4 858.5,1419.3 864.4,1420.9 872.2,1419.7 884.0,1419.3 887.9,1417.0 890.8,1413.4 896.7,1412.1 903.6,1407.6 909.4,1401.7 915.3,1393.9 921.2,1386.0 927.1,1383.1 929.4,1382.5 934.9,1383.7 940.8,1390.9 946.6,1401.7 950.6,1411.5 954.5,1421.3 958.4,1428.1 962.3,1431.6 966.2,1432.6 971.1,1430.1 976.0,1425.6 980.9,1424.8 982.9,1421.3 983.9,1416.4 987.8,1413.0 995.6,1410.1 1005.4,1407.6 1015.2,1406.0 1025.0,1404.6 1032.8,1401.7 1036.7,1401.1 1042.6,1403.6 1048.5,1405.6 1051.4,1409.5 1058.3,1415.0 1066.1,1419.7 1072.0,1422.2 1079.8,1422.8 1090.0,1423.2 1093.9,1422.2 1098.8,1421.7 1102.1,1417.3 1104.7,1407.6 1109.6,1395.8 1115.5,1384.1 1121.3,1372.3 1127.2,1361.5 1135.0,1349.8 1142.9,1338.0 1148.7,1329.2 1154.6,1319.4 1160.5,1312.6 1168.3,1304.8 1176.2,1297.9 1184.0,1291.1 1191.8,1283.2 1196.7,1280.3 1201.6,1278.9 1211.4,1278.7 1227.1,1278.7 1240.8,1278.7 1246.6,1277.3 1252.5,1275.0 1258.4,1273.4 1264.3,1273.4 1270.1,1274.8 1276.0,1274.4 1281.9,1273.4 1287.8,1273.8 1293.6,1274.8 1301.5,1275.6 1309.3,1276.4 1316.2,1276.0" fill="none" stroke="#e37e53" stroke-width="1.15" stroke-linejoin="round" stroke-linecap="round"/>
<polyline points="491.6,1325.3 509.6,1325.9 548.7,1326.3 576.2,1325.9 591.8,1324.9 599.7,1324.3 607.5,1321.8 615.3,1318.5 618.3,1317.5 620.2,1313.6 627.1,1306.7 632.0,1299.9 634.9,1295.6 638.8,1295.0 641.8,1288.1 643.1,1278.3 644.3,1266.6 646.6,1252.9 649.6,1239.2 652.5,1227.4 655.5,1215.7 658.4,1203.9 660.0,1200.0 660.4,1195.2 663.3,1183.4 666.2,1171.7 670.1,1159.9 674.1,1148.2 678.0,1138.4 681.9,1130.6 685.8,1122.7 691.7,1111.0 697.6,1101.2 705.4,1091.4 709.3,1087.9 721.1,1086.9 725.0,1091.4 729.9,1098.3 733.8,1103.2 737.7,1104.1 740.6,1108.0 742.2,1114.9 743.6,1124.7 746.5,1132.5 750.4,1142.3 754.3,1152.1 759.2,1163.9 764.1,1175.6 769.0,1190.3 774.9,1191.3 778.8,1195.2 780.8,1203.0 782.7,1207.9 786.7,1210.5 790.0,1211.2 799.8,1211.2 807.6,1214.4 815.5,1215.2 825.2,1218.3 835.0,1218.7 844.8,1223.5 854.6,1230.4 864.4,1237.2 872.2,1246.0 880.1,1255.8 885.9,1259.7 888.9,1266.6 892.8,1270.5 897.7,1271.5 902.6,1273.4 907.5,1270.5 915.3,1260.7 923.2,1249.0 931.0,1239.2 936.9,1233.7 944.7,1230.4 950.6,1229.0 956.4,1231.3 962.3,1237.2 968.2,1246.0 974.1,1252.5 979.9,1254.4 985.8,1258.7 993.6,1262.7 1000.5,1264.6 1007.3,1263.1 1015.2,1256.8 1025.0,1247.0 1034.8,1237.2 1044.6,1228.4 1050.4,1225.5 1055.3,1223.5 1064.1,1225.1 1073.9,1230.4 1083.7,1237.2 1090.0,1247.0 1093.9,1251.9 1097.8,1252.9 1100.8,1256.8 1102.7,1262.7 1104.7,1272.4 1107.6,1282.2 1111.5,1295.9 1116.4,1309.7 1121.3,1323.4 1126.2,1334.1 1132.1,1342.9 1139.0,1347.8 1146.8,1351.8 1152.7,1353.1 1158.5,1352.3 1162.4,1351.2 1167.3,1351.4 1172.2,1353.3 1178.1,1355.3 1184.0,1356.1 1191.8,1355.3 1199.7,1353.7 1207.5,1352.7 1217.3,1352.3 1227.1,1351.2 1234.9,1348.8 1240.8,1347.2 1250.6,1347.2 1262.3,1347.2 1270.1,1346.1 1278.0,1346.3 1285.8,1347.4 1295.6,1347.8 1307.3,1347.8 1316.7,1347.8" fill="none" stroke="#f2c558" stroke-width="1.15" stroke-linejoin="round" stroke-linecap="round"/>
<polyline points="491.6,1310.6 529.2,1310.6 568.3,1310.2 601.6,1310.6 605.5,1308.7 611.4,1307.3 617.3,1306.7 623.2,1301.8 627.1,1295.9 631.0,1288.1 634.9,1281.3 638.8,1280.3 641.8,1274.4 643.1,1260.7 646.6,1249.9 649.6,1243.1 652.5,1234.3 657.4,1221.5 662.3,1209.8 666.2,1200.0 670.1,1183.4 676.0,1169.7 682.9,1156.0 689.7,1142.3 695.6,1130.6 700.5,1120.8 704.4,1112.9 707.3,1108.0 710.3,1105.5 716.2,1105.1 719.5,1102.2 721.1,1095.3 722.0,1087.5 725.0,1081.6 729.9,1074.8 734.8,1070.3 738.7,1068.9 741.6,1065.0 743.6,1060.5 748.5,1056.2 754.3,1052.2 761.2,1049.3 770.0,1048.3 781.8,1047.9 790.0,1047.9 799.8,1047.7 807.6,1049.9 817.4,1050.7 827.2,1053.2 837.0,1057.7 844.8,1064.0 852.7,1073.8 858.5,1083.6 864.4,1093.4 868.3,1101.2 873.2,1108.6 878.1,1111.4 884.0,1110.6 887.3,1107.1 888.9,1101.2 891.8,1096.3 895.7,1094.9 898.7,1090.4 901.6,1083.6 904.5,1071.8 907.5,1060.1 910.4,1048.3 913.8,1034.6 917.3,1022.9 921.2,1012.1 926.1,1005.2 931.0,1002.3 934.5,1001.7 938.8,1004.3 942.7,1012.1 946.6,1022.9 951.0,1034.6 953.5,1046.4 956.4,1058.1 959.4,1071.8 961.9,1085.5 964.3,1099.2 967.2,1112.9 970.1,1124.7 974.1,1135.5 978.0,1141.3 983.9,1143.9 988.7,1140.0 993.6,1128.6 999.5,1112.9 1005.4,1097.3 1011.3,1081.6 1017.1,1064.0 1022.0,1050.3 1026.0,1040.5 1029.9,1030.7 1033.8,1023.8 1038.7,1020.3 1044.6,1019.9 1050.4,1021.9 1054.3,1025.8 1064.1,1033.6 1073.9,1041.5 1083.7,1050.3 1090.0,1057.1 1090.0,1060.1 1093.9,1065.9 1097.8,1066.9 1100.8,1071.8 1102.7,1082.6 1105.7,1093.4 1109.6,1103.2 1113.5,1111.0 1117.4,1126.6 1121.3,1140.4 1125.2,1152.1 1128.2,1165.8 1132.1,1177.6 1136.0,1191.3 1138.6,1200.0 1141.3,1209.8 1145.4,1221.5 1150.7,1233.3 1156.6,1244.1 1162.4,1252.9 1168.3,1259.7 1176.2,1267.6 1182.0,1274.4 1187.9,1279.3 1195.7,1283.2 1203.6,1285.6 1211.4,1286.2 1227.1,1286.2 1242.7,1286.7 1250.6,1285.6 1256.4,1284.6 1262.3,1285.2 1266.2,1286.2 1285.8,1286.2 1295.6,1285.6 1305.4,1285.6 1311.3,1284.8 1316.7,1284.8" fill="none" stroke="#9e63aa" stroke-width="1.15" stroke-linejoin="round" stroke-linecap="round"/>
<path d="M590.2 1474.5v-8.2M590.2 974.4v8.2M689.1 1474.5v-8.2M689.1 974.4v8.2M788.1 1474.5v-8.2M788.1 974.4v8.2M887.0 1474.5v-8.2M887.0 974.4v8.2M986.0 1474.5v-8.2M986.0 974.4v8.2M1084.9 1474.5v-8.2M1084.9 974.4v8.2M1183.9 1474.5v-8.2M1183.9 974.4v8.2M1282.8 1474.5v-8.2M1282.8 974.4v8.2M491.2 1418.9h8.2M1381.8 1418.9h-8.2M491.2 1363.4h8.2M1381.8 1363.4h-8.2M491.2 1307.8h8.2M1381.8 1307.8h-8.2M491.2 1252.3h8.2M1381.8 1252.3h-8.2M491.2 1196.7h8.2M1381.8 1196.7h-8.2M491.2 1141.1h8.2M1381.8 1141.1h-8.2M491.2 1085.6h8.2M1381.8 1085.6h-8.2M491.2 1030.0h8.2M1381.8 1030.0h-8.2" stroke="#888888" stroke-width="1.1" fill="none"/><rect x="491.2" y="974.4" width="890.5999999999999" height="500.1" fill="none" stroke="#888888" stroke-width="1.5"/><text transform="translate(491.2,1487.9) scale(0.93,1)" font-family="Liberation Sans, sans-serif" font-size="8.3" fill="#303030" text-anchor="middle" stroke="#303030" stroke-width="0.12">0</text><text transform="translate(590.2,1487.9) scale(0.93,1)" font-family="Liberation Sans, sans-serif" font-size="8.3" fill="#303030" text-anchor="middle" stroke="#303030" stroke-width="0.12">100</text><text transform="translate(689.1,1487.9) scale(0.93,1)" font-family="Liberation Sans, sans-serif" font-size="8.3" fill="#303030" text-anchor="middle" stroke="#303030" stroke-width="0.12">200</text><text transform="translate(788.1,1487.9) scale(0.93,1)" font-family="Liberation Sans, sans-serif" font-size="8.3" fill="#303030" text-anchor="middle" stroke="#303030" stroke-width="0.12">300</text><text transform="translate(887.0,1487.9) scale(0.93,1)" font-family="Liberation Sans, sans-serif" font-size="8.3" fill="#303030" text-anchor="middle" stroke="#303030" stroke-width="0.12">400</text><text transform="translate(986.0,1487.9) scale(0.93,1)" font-family="Liberation Sans, sans-serif" font-size="8.3" fill="#303030" text-anchor="middle" stroke="#303030" stroke-width="0.12">500</text><text transform="translate(1084.9,1487.9) scale(0.93,1)" font-family="Liberation Sans, sans-serif" font-size="8.3" fill="#303030" text-anchor="middle" stroke="#303030" stroke-width="0.12">600</text><text transform="translate(1183.9,1487.9) scale(0.93,1)" font-family="Liberation Sans, sans-serif" font-size="8.3" fill="#303030" text-anchor="middle" stroke="#303030" stroke-width="0.12">700</text><text transform="translate(1282.8,1487.9) scale(0.93,1)" font-family="Liberation Sans, sans-serif" font-size="8.3" fill="#303030" text-anchor="middle" stroke="#303030" stroke-width="0.12">800</text><text transform="translate(1381.8,1487.9) scale(0.93,1)" font-family="Liberation Sans, sans-serif" font-size="8.3" fill="#303030" text-anchor="middle" stroke="#303030" stroke-width="0.12">900</text><text transform="translate(487.8,1477.6) scale(0.93,1)" font-family="Liberation Sans, sans-serif" font-size="8.3" fill="#303030" text-anchor="end" stroke="#303030" stroke-width="0.12">-1</text><text transform="translate(487.8,1422.0) scale(0.93,1)" font-family="Liberation Sans, sans-serif" font-size="8.3" fill="#303030" text-anchor="end" stroke="#303030" stroke-width="0.12">-0.8</text><text transform="translate(487.8,1366.5) scale(0.93,1)" font-family="Liberation Sans, sans-serif" font-size="8.3" fill="#303030" text-anchor="end" stroke="#303030" stroke-width="0.12">-0.6</text><text transform="translate(487.8,1310.9) scale(0.93,1)" font-family="Liberation Sans, sans-serif" font-size="8.3" fill="#303030" text-anchor="end" stroke="#303030" stroke-width="0.12">-0.4</text><text transform="translate(487.8,1255.4) scale(0.93,1)" font-family="Liberation Sans, sans-serif" font-size="8.3" fill="#303030" text-anchor="end" stroke="#303030" stroke-width="0.12">-0.2</text><text transform="translate(487.8,1199.8) scale(0.93,1)" font-family="Liberation Sans, sans-serif" font-size="8.3" fill="#303030" text-anchor="end" stroke="#303030" stroke-width="0.12">0</text><text transform="translate(487.8,1144.2) scale(0.93,1)" font-family="Liberation Sans, sans-serif" font-size="8.3" fill="#303030" text-anchor="end" stroke="#303030" stroke-width="0.12">0.2</text><text transform="translate(487.8,1088.7) scale(0.93,1)" font-family="Liberation Sans, sans-serif" font-size="8.3" fill="#303030" text-anchor="end" stroke="#303030" stroke-width="0.12">0.4</text><text transform="translate(487.8,1033.1) scale(0.93,1)" font-family="Liberation Sans, sans-serif" font-size="8.3" fill="#303030" text-anchor="end" stroke="#303030" stroke-width="0.12">0.6</text><text transform="translate(487.8,977.6) scale(0.93,1)" font-family="Liberation Sans, sans-serif" font-size="8.3" fill="#303030" text-anchor="end" stroke="#303030" stroke-width="0.12">0.8</text>
<rect x="1332.4" y="981.7" width="41.9" height="46.5" rx="0.8" fill="#fff" stroke="#5a5a5a" stroke-width="1"/><line x1="1337.7" y1="988.6" x2="1361.2" y2="988.6" stroke="#4095ce" stroke-width="1.15"/><text transform="translate(1363.7,991.4) scale(0.86,1)" font-family="Liberation Sans, sans-serif" font-size="7.8" fill="#1c1c1c" text-anchor="start" stroke="#1c1c1c" stroke-width="0.15">q0</text><line x1="1337.7" y1="999.8" x2="1361.2" y2="999.8" stroke="#e37e53" stroke-width="1.15"/><text transform="translate(1363.7,1002.6) scale(0.86,1)" font-family="Liberation Sans, sans-serif" font-size="7.8" fill="#1c1c1c" text-anchor="start" stroke="#1c1c1c" stroke-width="0.15">q1</text><line x1="1337.7" y1="1010.7" x2="1361.2" y2="1010.7" stroke="#f2c558" stroke-width="1.15"/><text transform="translate(1363.7,1013.5) scale(0.86,1)" font-family="Liberation Sans, sans-serif" font-size="7.8" fill="#1c1c1c" text-anchor="start" stroke="#1c1c1c" stroke-width="0.15">q2</text><line x1="1337.7" y1="1021.9" x2="1361.2" y2="1021.9" stroke="#9e63aa" stroke-width="1.15"/><text transform="translate(1363.7,1024.7) scale(0.86,1)" font-family="Liberation Sans, sans-serif" font-size="7.8" fill="#1c1c1c" text-anchor="start" stroke="#1c1c1c" stroke-width="0.15">q3</text>
<rect x="658.0" y="981.7" width="37.6" height="26.6" fill="#fdfdee" stroke="#e2e2d2" stroke-width="0.9"/><text transform="translate(660.6,992.6) scale(0.94,1)" font-family="Liberation Sans, sans-serif" font-size="8.3" fill="#111" text-anchor="start" stroke="#111" stroke-width="0.3">X: 165</text><text transform="translate(660.6,1004.3) scale(0.94,1)" font-family="Liberation Sans, sans-serif" font-size="8.3" fill="#111" text-anchor="start" stroke="#111" stroke-width="0.3">Y: 0.7885</text>
<rect x="667.2" y="1094.9" width="34.3" height="27.4" fill="#fdfdee" stroke="#8c8c8c" stroke-width="1.4"/><text transform="translate(669.8,1106.2) scale(0.94,1)" font-family="Liberation Sans, sans-serif" font-size="8.3" fill="#111" text-anchor="start" stroke="#111" stroke-width="0.3">X: 217</text><text transform="translate(669.8,1117.9) scale(0.94,1)" font-family="Liberation Sans, sans-serif" font-size="8.3" fill="#111" text-anchor="start" stroke="#111" stroke-width="0.3">Y: 0.379</text>
<rect x="785.7" y="1015.0" width="39.2" height="27.4" fill="#fdfdee" stroke="#e2e2d2" stroke-width="0.9"/><text transform="translate(788.3,1026.3) scale(0.94,1)" font-family="Liberation Sans, sans-serif" font-size="8.3" fill="#111" text-anchor="start" stroke="#111" stroke-width="0.3">X: 294</text><text transform="translate(788.3,1038.0) scale(0.94,1)" font-family="Liberation Sans, sans-serif" font-size="8.3" fill="#111" text-anchor="start" stroke="#111" stroke-width="0.3">Y: 0.5389</text>
<rect x="797.8" y="1135.6" width="38.8" height="27.8" fill="#fdfdee" stroke="#e2e2d2" stroke-width="0.9"/><text transform="translate(800.4,1147.1) scale(0.94,1)" font-family="Liberation Sans, sans-serif" font-size="8.3" fill="#111" text-anchor="start" stroke="#111" stroke-width="0.3">X: 306</text><text transform="translate(800.4,1158.8) scale(0.94,1)" font-family="Liberation Sans, sans-serif" font-size="8.3" fill="#111" text-anchor="start" stroke="#111" stroke-width="0.3">Y: 0.2343</text>
<rect x="938.2" y="1006.2" width="38.2" height="27.4" fill="#fdfdee" stroke="#e2e2d2" stroke-width="0.9"/><text transform="translate(940.8,1017.5) scale(0.94,1)" font-family="Liberation Sans, sans-serif" font-size="8.3" fill="#111" text-anchor="start" stroke="#111" stroke-width="0.3">X: 448</text><text transform="translate(940.8,1029.2) scale(0.94,1)" font-family="Liberation Sans, sans-serif" font-size="8.3" fill="#111" text-anchor="start" stroke="#111" stroke-width="0.3">Y: 0.6975</text>
<rect x="991.7" y="1014.1" width="38.8" height="27.4" fill="#fdfdee" stroke="#e2e2d2" stroke-width="0.9"/><text transform="translate(994.3,1025.4) scale(0.94,1)" font-family="Liberation Sans, sans-serif" font-size="8.3" fill="#111" text-anchor="start" stroke="#111" stroke-width="0.3">X: 502</text><text transform="translate(994.3,1037.1) scale(0.94,1)" font-family="Liberation Sans, sans-serif" font-size="8.3" fill="#111" text-anchor="start" stroke="#111" stroke-width="0.3">Y: 0.5417</text>
<rect x="987.8" y="1148.2" width="38.5" height="27.8" fill="#fdfdee" stroke="#e2e2d2" stroke-width="0.9"/><text transform="translate(990.4,1159.7) scale(0.94,1)" font-family="Liberation Sans, sans-serif" font-size="8.3" fill="#111" text-anchor="start" stroke="#111" stroke-width="0.3">X: 498</text><text transform="translate(990.4,1171.4) scale(0.94,1)" font-family="Liberation Sans, sans-serif" font-size="8.3" fill="#111" text-anchor="start" stroke="#111" stroke-width="0.3">Y: 0.1874</text>
<rect x="1063.7" y="1167.8" width="39.0" height="27.4" fill="#fdfdee" stroke="#e2e2d2" stroke-width="0.9"/><text transform="translate(1066.3,1179.1) scale(0.94,1)" font-family="Liberation Sans, sans-serif" font-size="8.3" fill="#111" text-anchor="start" stroke="#111" stroke-width="0.3">X: 575</text><text transform="translate(1066.3,1190.8) scale(0.94,1)" font-family="Liberation Sans, sans-serif" font-size="8.3" fill="#111" text-anchor="start" stroke="#111" stroke-width="0.3">Y: 0.1184</text>
<rect x="909.4" y="1196.5" width="37.2" height="27.5" fill="#fdfdee" stroke="#e2e2d2" stroke-width="0.9"/><text transform="translate(912.0,1207.8) scale(0.94,1)" font-family="Liberation Sans, sans-serif" font-size="8.3" fill="#111" text-anchor="start" stroke="#111" stroke-width="0.3">X: 464</text><text transform="translate(912.0,1219.5) scale(0.94,1)" font-family="Liberation Sans, sans-serif" font-size="8.3" fill="#111" text-anchor="start" stroke="#111" stroke-width="0.3">Y: -0.115</text>
<rect x="1004.8" y="1268.5" width="40.3" height="27.8" fill="#fdfdee" stroke="#e2e2d2" stroke-width="0.9"/><text transform="translate(1007.4,1280.0) scale(0.94,1)" font-family="Liberation Sans, sans-serif" font-size="8.3" fill="#111" text-anchor="start" stroke="#111" stroke-width="0.3">X: 515</text><text transform="translate(1007.4,1291.7) scale(0.94,1)" font-family="Liberation Sans, sans-serif" font-size="8.3" fill="#111" text-anchor="start" stroke="#111" stroke-width="0.3">Y: -0.2452</text>
<rect x="933.5" y="1350.8" width="40.6" height="27.8" fill="#fdfdee" stroke="#e2e2d2" stroke-width="0.9"/><text transform="translate(936.1,1362.3) scale(0.94,1)" font-family="Liberation Sans, sans-serif" font-size="8.3" fill="#111" text-anchor="start" stroke="#111" stroke-width="0.3">X: 443</text><text transform="translate(936.1,1374.0) scale(0.94,1)" font-family="Liberation Sans, sans-serif" font-size="8.3" fill="#111" text-anchor="start" stroke="#111" stroke-width="0.3">Y: -0.6673</text>
<rect x="1084.7" y="1427.1" width="40.5" height="27.5" fill="#fdfdee" stroke="#e2e2d2" stroke-width="0.9"/><text transform="translate(1087.3,1438.4) scale(0.94,1)" font-family="Liberation Sans, sans-serif" font-size="8.3" fill="#111" text-anchor="start" stroke="#111" stroke-width="0.3">X: 595</text><text transform="translate(1087.3,1450.1) scale(0.94,1)" font-family="Liberation Sans, sans-serif" font-size="8.3" fill="#111" text-anchor="start" stroke="#111" stroke-width="0.3">Y: -0.8129</text>
<rect x="1266.2" y="999.4" width="38.2" height="27.4" fill="#fdfdee" stroke="#e2e2d2" stroke-width="0.9"/><text transform="translate(1268.8,1010.7) scale(0.94,1)" font-family="Liberation Sans, sans-serif" font-size="8.3" fill="#111" text-anchor="start" stroke="#111" stroke-width="0.3">X: 779</text><text transform="translate(1268.8,1022.4) scale(0.94,1)" font-family="Liberation Sans, sans-serif" font-size="8.3" fill="#111" text-anchor="start" stroke="#111" stroke-width="0.3">Y: 0.7241</text>
<rect x="1321.1" y="1245.0" width="40.1" height="27.5" fill="#fdfdee" stroke="#e2e2d2" stroke-width="0.9"/><text transform="translate(1323.7,1256.3) scale(0.94,1)" font-family="Liberation Sans, sans-serif" font-size="8.3" fill="#111" text-anchor="start" stroke="#111" stroke-width="0.3">X: 834</text><text transform="translate(1323.7,1268.0) scale(0.94,1)" font-family="Liberation Sans, sans-serif" font-size="8.3" fill="#111" text-anchor="start" stroke="#111" stroke-width="0.3">Y: -0.2859</text>
<rect x="651.5" y="974.7" width="5.9" height="5.9" fill="#000" stroke="#fbfbe6" stroke-width="0.7"/>
<rect x="703.0" y="1088.5" width="5.9" height="5.9" fill="#000" stroke="#fbfbe6" stroke-width="0.7"/>
<rect x="779.2" y="1044.0" width="5.9" height="5.9" fill="#000" stroke="#fbfbe6" stroke-width="0.7"/>
<rect x="791.1" y="1128.7" width="5.9" height="5.9" fill="#000" stroke="#fbfbe6" stroke-width="0.7"/>
<rect x="931.6" y="1000.0" width="5.9" height="5.9" fill="#000" stroke="#fbfbe6" stroke-width="0.7"/>
<rect x="985.0" y="1043.3" width="5.9" height="5.9" fill="#000" stroke="#fbfbe6" stroke-width="0.7"/>
<rect x="981.1" y="1141.7" width="5.9" height="5.9" fill="#000" stroke="#fbfbe6" stroke-width="0.7"/>
<rect x="1057.2" y="1160.9" width="5.9" height="5.9" fill="#000" stroke="#fbfbe6" stroke-width="0.7"/>
<rect x="947.4" y="1225.7" width="5.9" height="5.9" fill="#000" stroke="#fbfbe6" stroke-width="0.7"/>
<rect x="997.9" y="1261.9" width="5.9" height="5.9" fill="#000" stroke="#fbfbe6" stroke-width="0.7"/>
<rect x="926.6" y="1379.1" width="5.9" height="5.9" fill="#000" stroke="#fbfbe6" stroke-width="0.7"/>
<rect x="1077.0" y="1419.6" width="5.9" height="5.9" fill="#000" stroke="#fbfbe6" stroke-width="0.7"/>
<rect x="1259.1" y="992.6" width="5.9" height="5.9" fill="#000" stroke="#fbfbe6" stroke-width="0.7"/>
<rect x="1313.5" y="1273.2" width="5.9" height="5.9" fill="#000" stroke="#fbfbe6" stroke-width="0.7"/>
</g>
</svg></body></html>
